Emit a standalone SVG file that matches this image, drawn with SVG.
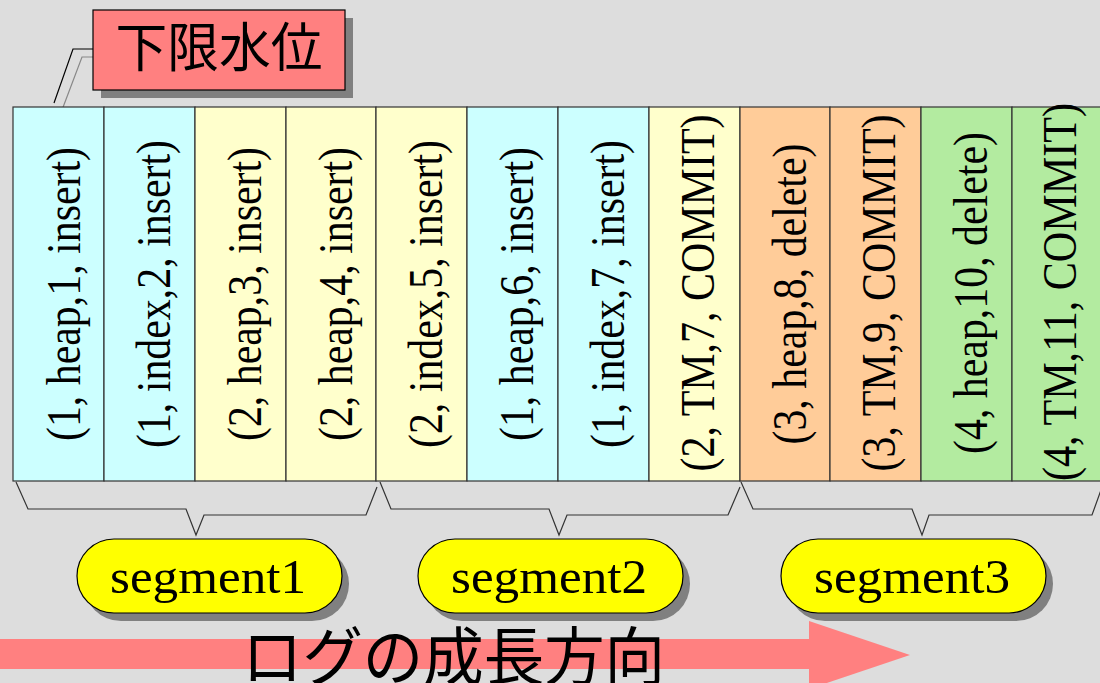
<svg xmlns="http://www.w3.org/2000/svg" width="1100" height="683" viewBox="0 0 1100 683">
<style>
.bg{fill:#DDDDDD}
.cell{stroke:#333;stroke-width:1.2}
.c{fill:#CCFFFF}.y{fill:#FFFFCC}.o{fill:#FFCC99}.g{fill:#B3EBA0}
.vt{font-family:"Liberation Serif","Times New Roman",serif;font-size:49px;fill:#000;text-anchor:middle}
.brace{fill:none;stroke:#333;stroke-width:1.2}
.pill{fill:#FFFF00;stroke:#000;stroke-width:1.2}
.shadow{fill:#808080}
.pt{font-family:"Liberation Serif","Times New Roman",serif;font-size:48px;fill:#000;text-anchor:middle}
.jp{font-family:"Noto Sans CJK JP","Noto Sans CJK SC",sans-serif;fill:#000}
</style>
<rect class="bg" x="0" y="0" width="1100" height="683"/>

<g id="label-kagen">
<polyline points="93,49 73,49 54,103" fill="none" stroke="#000" stroke-width="1.2"/>
<polyline points="93,57 82,57 62,110" fill="none" stroke="#888" stroke-width="1.2"/>
<rect class="shadow" x="101" y="18" width="252" height="80"/>
<rect x="93" y="10" width="252" height="80" fill="#FF8080" stroke="#000" stroke-width="1.2"/>
<text class="jp" x="219" y="67" font-size="53" text-anchor="middle" textLength="207" lengthAdjust="spacingAndGlyphs">下限水位</text>
</g>

<g id="col1"><rect class="cell c" x="13" y="107" width="91" height="374"/><text class="vt" textLength="294" lengthAdjust="spacingAndGlyphs" transform="translate(80,294) rotate(-90)">(1, heap,1, insert)</text></g>
<g id="col2"><rect class="cell c" x="104" y="107" width="91" height="374"/><text class="vt" textLength="308" lengthAdjust="spacingAndGlyphs" transform="translate(170,294) rotate(-90)">(1, index,2, insert)</text></g>
<g id="col3"><rect class="cell y" x="195" y="107" width="91" height="374"/><text class="vt" textLength="294" lengthAdjust="spacingAndGlyphs" transform="translate(261,294) rotate(-90)">(2, heap,3, insert)</text></g>
<g id="col4"><rect class="cell y" x="286" y="107" width="90" height="374"/><text class="vt" textLength="294" lengthAdjust="spacingAndGlyphs" transform="translate(352,294) rotate(-90)">(2, heap,4, insert)</text></g>
<g id="col5"><rect class="cell y" x="376" y="107" width="91" height="374"/><text class="vt" textLength="308" lengthAdjust="spacingAndGlyphs" transform="translate(442,294) rotate(-90)">(2, index,5, insert)</text></g>
<g id="col6"><rect class="cell c" x="467" y="107" width="91" height="374"/><text class="vt" textLength="294" lengthAdjust="spacingAndGlyphs" transform="translate(533,294) rotate(-90)">(1, heap,6, insert)</text></g>
<g id="col7"><rect class="cell c" x="558" y="107" width="91" height="374"/><text class="vt" textLength="308" lengthAdjust="spacingAndGlyphs" transform="translate(624,294) rotate(-90)">(1, index,7, insert)</text></g>
<g id="col8"><rect class="cell y" x="649" y="107" width="91" height="374"/><text class="vt" textLength="357" lengthAdjust="spacingAndGlyphs" transform="translate(714,293) rotate(-90)">(2, TM,7, COMMIT)</text></g>
<g id="col9"><rect class="cell o" x="740" y="107" width="90" height="374"/><text class="vt" textLength="301" lengthAdjust="spacingAndGlyphs" transform="translate(806,294) rotate(-90)">(3, heap,8, delete)</text></g>
<g id="col10"><rect class="cell o" x="830" y="107" width="91" height="374"/><text class="vt" textLength="357" lengthAdjust="spacingAndGlyphs" transform="translate(895,293) rotate(-90)">(3, TM,9, COMMIT)</text></g>
<g id="col11"><rect class="cell g" x="921" y="107" width="91" height="374"/><text class="vt" textLength="322" lengthAdjust="spacingAndGlyphs" transform="translate(987,293) rotate(-90)">(4, heap,10, delete)</text></g>
<g id="col12"><rect class="cell g" x="1012" y="107" width="91" height="374"/><text class="vt" textLength="378" lengthAdjust="spacingAndGlyphs" transform="translate(1076,292) rotate(-90)">(4, TM,11, COMMIT)</text></g>

<g id="connectors">
<polyline class="brace" points="16,482 28,509 186,509 196,535 204,515 366,515 377,487"/>
<polyline class="brace" points="380,482 391,509 549,509 559,535 567,515 728,515 740,487"/>
<polyline class="brace" points="741,482 753,509 912,509 922,535 929,515 1092,515 1101,490"/>
</g>

<g id="segment1">
<rect class="shadow" x="84" y="547" width="265" height="74" rx="37"/>
<rect class="pill" x="77" y="539" width="265" height="74" rx="37"/>
<text class="pt" x="208" y="593" textLength="196" lengthAdjust="spacingAndGlyphs">segment1</text>
</g>
<g id="segment2">
<rect class="shadow" x="425" y="547" width="265" height="74" rx="37"/>
<rect class="pill" x="418" y="539" width="265" height="74" rx="37"/>
<text class="pt" x="549" y="593" textLength="196" lengthAdjust="spacingAndGlyphs">segment2</text>
</g>
<g id="segment3">
<rect class="shadow" x="788" y="547" width="265" height="74" rx="37"/>
<rect class="pill" x="781" y="539" width="265" height="74" rx="37"/>
<text class="pt" x="912" y="593" textLength="196" lengthAdjust="spacingAndGlyphs">segment3</text>
</g>

<g id="growth-arrow">
<rect x="0" y="639" width="810" height="30" fill="#FF8080"/>
<polygon points="809,621 910,655 809,689" fill="#FF8080"/>
<text class="jp" x="242" y="680" font-size="64" textLength="423" lengthAdjust="spacingAndGlyphs">ログの成長方向</text>
</g>
</svg>
